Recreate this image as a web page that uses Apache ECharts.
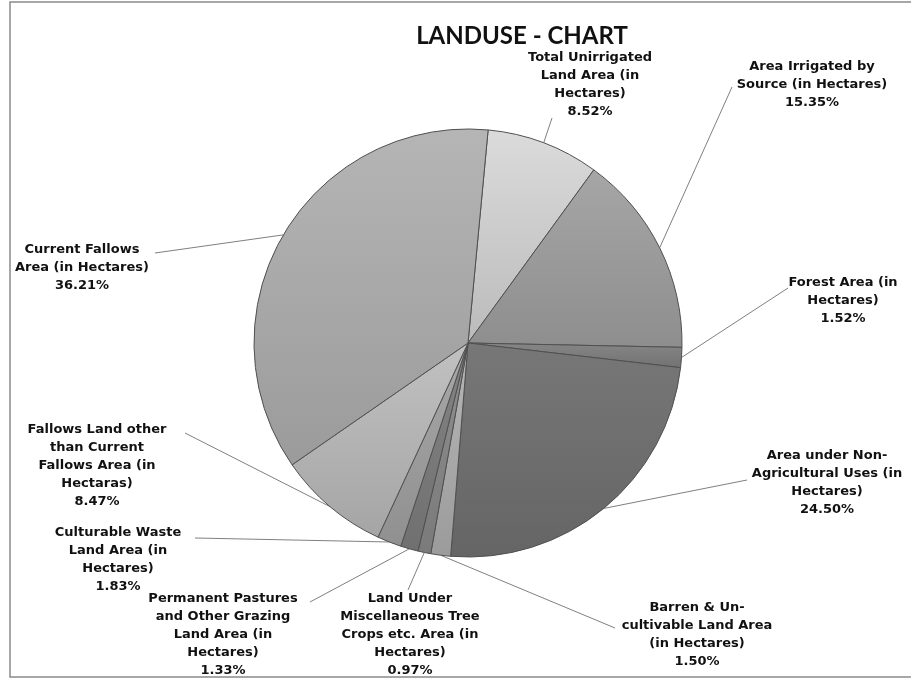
<!DOCTYPE html>
<html>
<head>
<meta charset="utf-8">
<title>LANDUSE - CHART</title>
<script src="https://cdn.jsdelivr.net/npm/echarts@6/dist/echarts.min.js"></script>
<style>
  html, body { margin: 0; padding: 0; background: #fff; }
  #chart { width: 911px; height: 682px; }
</style>
</head>
<body>
<div id="chart"></div>
<script>
// slices, clockwise from the top
var categories = [
  'Total Unirrigated\nLand Area (in\nHectares)',
  'Area Irrigated by\nSource (in Hectares)',
  'Forest Area (in\nHectares)',
  'Area under Non-\nAgricultural Uses (in\nHectares)',
  'Barren & Un-\ncultivable Land Area\n(in Hectares)',
  'Land Under\nMiscellaneous Tree\nCrops etc. Area (in\nHectares)',
  'Permanent Pastures\nand Other Grazing\nLand Area (in\nHectares)',
  'Culturable Waste\nLand Area (in\nHectares)',
  'Fallows Land other\nthan Current\nFallows Area (in\nHectaras)',
  'Current Fallows\nArea (in Hectares)'
];
var shares = [8.52, 15.35, 1.52, 24.50, 1.50, 0.97, 1.33, 1.83, 8.47, 36.21];

var sliceColors = ['#cbcbcb', '#9a9a9a', '#7c7c7c', '#6e6e6e', '#a9a9a9',
                   '#858585', '#7a7a7a', '#9c9c9c', '#b3b3b3', '#a8a8a8'];

// label centre x, y and where the leader line meets it
var labelSpots = [
  [590, 85, 552, 118],
  [812, 85, 732, 87],
  [843, 301, 788, 288],
  [827, 483, 747, 480],
  [697, 635, 615, 628],
  [410, 635, 408, 590],
  [223, 635, 310, 602],
  [118, 560, 195, 538],
  [97, 466, 185, 433],
  [82, 268, 155, 253]
];

function shade(hex, k) {
  var n = parseInt(hex.slice(1), 16);
  var r = Math.min(255, Math.round(((n >> 16) & 255) * k));
  var g = Math.min(255, Math.round(((n >> 8) & 255) * k));
  var b = Math.min(255, Math.round((n & 255) * k));
  return 'rgb(' + r + ',' + g + ',' + b + ')';
}

var myChart = echarts.init(document.getElementById('chart'));

var seriesData = categories.map(function (name, i) {
  return {
    name: name,
    value: shares[i],
    itemStyle: {
      color: new echarts.graphic.LinearGradient(0, 0, 0, 1, [
        { offset: 0, color: shade(sliceColors[i], 1.08) },
        { offset: 1, color: shade(sliceColors[i], 0.92) }
      ])
    }
  };
});

var option = {
  backgroundColor: '#ffffff',
  animation: false,
  title: {
    text: 'LANDUSE - CHART',
    left: 517,
    top: 19,
    textAlign: 'center',
    textStyle: {
      fontFamily: 'Lato',
      fontWeight: 'bold',
      fontSize: 24,
      color: '#111'
    }
  },
  graphic: [{
    type: 'rect',
    shape: { x: 10, y: 2, width: 920, height: 675 },
    style: { fill: 'none', stroke: '#8a8a8a', lineWidth: 1.5 },
    silent: true
  }],
  series: [{
    type: 'pie',
    center: [468, 343],
    radius: 214,
    startAngle: 84.6,
    clockwise: true,
    avoidLabelOverlap: false,
    itemStyle: {
      borderColor: '#505050',
      borderWidth: 1
    },
    label: {
      show: true,
      position: 'outside',
      fontFamily: 'DejaVu Sans',
      fontWeight: 'bold',
      fontSize: 13,
      lineHeight: 18,
      color: '#111',
      formatter: function (p) {
        return p.name + '\n' + p.value.toFixed(2) + '%';
      }
    },
    labelLine: {
      show: true,
      lineStyle: { color: '#808080', width: 1 }
    },
    labelLayout: function (params) {
      var s = labelSpots[params.dataIndex];
      var pts = params.labelLinePoints;
      var start = pts ? pts[0] : [s[2], s[3]];
      return {
        x: s[0],
        y: s[1],
        align: 'center',
        verticalAlign: 'middle',
        labelLinePoints: [start, [s[2], s[3]], [s[2], s[3]]]
      };
    },
    emphasis: { disabled: true },
    data: seriesData
  }]
};

myChart.setOption(option);
</script>
</body>
</html>
